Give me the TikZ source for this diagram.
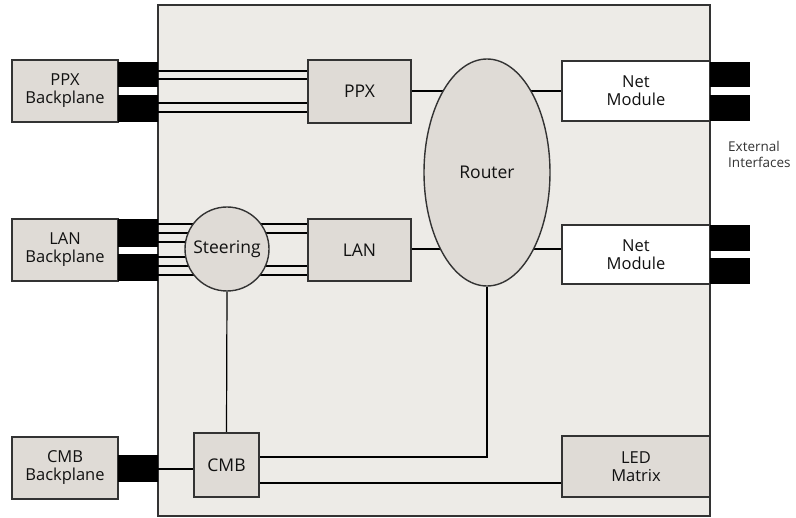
\documentclass[tikz,border=0pt]{standalone}
\usepackage{fontspec}
\setmainfont{Open Sans}
\usetikzlibrary{shapes.geometric}
\pgfdeclarelayer{background}
\pgfdeclarelayer{back2}
\pgfsetlayers{back2,background,main}
\definecolor{panel}{HTML}{EDEBE7}
\definecolor{nodegray}{HTML}{DFDBD6}
\definecolor{edge}{HTML}{333333}
\definecolor{txt}{HTML}{111111}
\tikzset{
  blk/.style={draw=edge, line width=1.4pt, fill=nodegray, inner sep=0pt, align=center,
    text=txt, font=\fontsize{16.5}{18}\selectfont},
  inner/.style={blk, font=\fontsize{17.5}{21}\selectfont},
  netmod/.style={blk, fill=white},
  plug/.style={fill=black, draw=none, inner sep=0pt},
  wire/.style={draw=black, line width=1.2pt},
  bus/.style={draw=black, line width=2.8pt},
}
\begin{document}
\begin{tikzpicture}[x=1pt,y=-1pt]
\useasboundingbox (0,0) rectangle (796,518);
% main panel
\begin{pgfonlayer}{back2}
\draw[draw=edge, line width=1.6pt, fill=panel] (158,5) rectangle (710,516);
\end{pgfonlayer}

% backplanes
\node[blk, minimum width=106pt, minimum height=62pt] (ppxb) at (65,91) {PPX\\Backplane};
\node[blk, minimum width=106pt, minimum height=62pt] (lanb) at (65,250) {LAN\\Backplane};
\node[blk, minimum width=106pt, minimum height=62pt] (cmbb) at (65,468) {CMB\\Backplane};

% plugs left
\node[plug, minimum width=40pt, minimum height=25pt] (p1) at (138,74.5) {};
\node[plug, minimum width=40pt, minimum height=27pt] (p2) at (138,108.5) {};
\node[plug, minimum width=40pt, minimum height=28pt] (l1) at (138,233) {};
\node[plug, minimum width=40pt, minimum height=27pt] (l2) at (138,267.5) {};
\node[plug, minimum width=40pt, minimum height=27pt] (c1) at (138,468.5) {};

% internal blocks
\node[inner, minimum width=103pt, minimum height=63pt] (ppx) at (359.5,91.5) {PPX};
\node[inner, minimum width=103pt, minimum height=62pt] (lan) at (359.5,250) {LAN};
\node[inner, minimum width=65pt, minimum height=64pt] (cmb) at (226.5,465) {CMB};
\node[inner, ellipse, minimum width=126pt, minimum height=227pt] (router) at (487,172.5) {Router};
\node[inner, circle, minimum size=84pt] (steer) at (227,249) {Steering};

% right side
\node[netmod, minimum width=148pt, minimum height=60pt] (nm1) at (636,91) {Net\\Module};
\node[netmod, minimum width=148pt, minimum height=59pt] (nm2) at (636,254.5) {Net\\Module};
\node[blk, minimum width=148pt, minimum height=61pt] (led) at (636,466.5) {LED\\Matrix};

% plugs right
\node[plug, minimum width=40pt, minimum height=25pt] (r1) at (730,74.5) {};
\node[plug, minimum width=40pt, minimum height=26pt] (r2) at (730,108) {};
\node[plug, minimum width=40pt, minimum height=26pt] (r3) at (730,238) {};
\node[plug, minimum width=40pt, minimum height=26pt] (r4) at (730,271) {};

\node[anchor=base west, align=left, inner sep=0pt, text=edge,
  font=\fontsize{13.5}{16}\selectfont] (ext) at (728,168) {External\\Interfaces};

\begin{pgfonlayer}{background}
% PPX bus
\foreach \yy in {71,79,103,112} \draw[bus] (p1.east |- 0,\yy) -- (ppx.west |- 0,\yy);
% LAN bus
\foreach \yy in {224,233,266,275} \draw[bus] (l1.east |- 0,\yy) -- (lan.west |- 0,\yy);
\foreach \yy in {242,257} \draw[bus] (l1.east |- 0,\yy) -- (steer.center |- 0,\yy);
% CMB bus
\draw[bus] (c1.east |- 0,469) -- (cmb.west |- 0,469);
% router links
\draw[wire] (ppx.east |- 0,91) -- (router.center |- 0,91);
\draw[wire] (router.center |- 0,91) -- (nm1.west |- 0,91);
\draw[wire] (lan.east |- 0,249) -- (router.center |- 0,249);
\draw[wire] (router.center |- 0,249) -- (nm2.west |- 0,249);
\draw[wire] (router.south) -- (router.south |- 0,457) -- (cmb.east |- 0,457);
\draw[wire] (cmb.east |- 0,483) -- (led.west |- 0,483);
\draw[wire] (steer.south) -- (cmb.north);
\end{pgfonlayer}
\end{tikzpicture}
\end{document}
